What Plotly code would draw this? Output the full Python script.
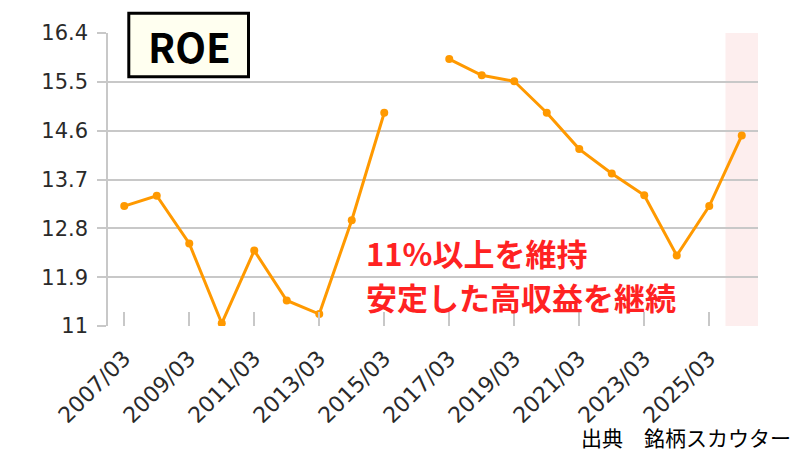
import plotly.graph_objects as go

categories = ["2007/03", "2008/03", "2009/03", "2010/03", "2011/03", "2012/03",
              "2013/03", "2014/03", "2015/03", "2016/03", "2017/03", "2018/03",
              "2019/03", "2020/03", "2021/03", "2022/03", "2023/03", "2024/03",
              "2025/03", "2026/03"]
roe = [13.21, 13.40, 12.52, 11.05, 12.39, 11.47, 11.22, 12.95, 14.93, None,
       15.92, 15.62, 15.51, 14.93, 14.26, 13.81, 13.41, 12.30, 13.21, 14.51]
y_ticks = [11, 11.9, 12.8, 13.7, 14.6, 15.5, 16.4]
y_tick_text = ["11", "11.9", "12.8", "13.7", "14.6", "15.5", "16.4"]
x_ticks = categories[0::2][:10]

title_text = "ROE"
note_line1 = "11%以上を維持"
note_line2 = "安定した高収益を継続"
source_text = "出典　銘柄スカウター"

FONT = "Noto Sans CJK JP"
TICKFONT = "DejaVu Sans"
OFF = 8  # page body margin
W, H = 800 - OFF, 450 - OFF
L, T = 108 - OFF, 33 - OFF
PW, PH = 650, 293
R, B = W - L - PW, H - T - PH


def px(x):
    return (x - OFF - L) / PW


def py(y):
    return (T + PH - (y - OFF)) / PH


fig = go.Figure()
fig.add_trace(go.Scatter(
    x=categories, y=roe, mode="lines+markers",
    line=dict(color="#ff9900", width=3),
    marker=dict(color="#ff9900", size=8),
    connectgaps=False, hoverinfo="skip", showlegend=False,
))

# forecast shading on the last category
fig.add_shape(type="rect", xref="x", yref="paper",
              x0=len(categories) - 1.5, x1=len(categories) - 0.5, y0=0, y1=1,
              fillcolor="#fdeeee", line=dict(width=0), layer="below")

# title box
fig.add_shape(type="rect", xref="paper", yref="paper",
              x0=px(128.8), x1=px(248.5), y0=py(76.8), y1=py(13.2),
              fillcolor="#fffff0", line=dict(color="black", width=3), layer="above")
fig.add_annotation(xref="paper", yref="paper", x=px(189), y=py(46),
                   text=f"<b>{title_text}</b>", showarrow=False,
                   xanchor="center", yanchor="middle",
                   font=dict(family=FONT, size=40, color="black"))

fig.add_annotation(xref="paper", yref="paper", x=px(364), y=py(252),
                   text=f"<b>{note_line1}</b>", showarrow=False,
                   xanchor="left", yanchor="middle",
                   font=dict(family=FONT, size=31, color="#ff2222"))
fig.add_annotation(xref="paper", yref="paper", x=px(364), y=py(296),
                   text=f"<b>{note_line2}</b>", showarrow=False,
                   xanchor="left", yanchor="middle",
                   font=dict(family=FONT, size=31, color="#ff2222"))
fig.add_annotation(xref="paper", yref="paper", x=px(793), y=py(437),
                   text=source_text, showarrow=False,
                   xanchor="right", yanchor="middle",
                   font=dict(family=FONT, size=21, color="black"))

fig.update_layout(
    width=W, height=H, margin=dict(l=L, r=R, t=T, b=B),
    plot_bgcolor="white", paper_bgcolor="white",
    font=dict(family=FONT, size=21, color="#222222"),
    xaxis=dict(type="category", range=[-0.5, len(categories) - 0.5],
               tickmode="array", tickvals=x_ticks, ticktext=x_ticks,
               tickangle=-45, ticks="inside", ticklen=14, tickwidth=1.5,
               tickcolor="#c8c8c8", showgrid=False, showline=False,
               zeroline=False, ticklabelstandoff=14,
               tickfont=dict(family=TICKFONT, size=22, color="#2a2a2a")),
    yaxis=dict(range=[11, 16.4], tickmode="array", tickvals=y_ticks,
               ticktext=y_tick_text, ticks="outside", ticklen=9,
               tickwidth=1.5, tickcolor="#c8c8c8", showgrid=True,
               gridcolor="#c8c8c8", gridwidth=1.5, showline=True,
               linecolor="#c8c8c8", linewidth=1.5, zeroline=False,
               tickfont=dict(family=TICKFONT, size=21, color="#2a2a2a"),
               ticklabelstandoff=5),
)

fig.write_html("out.html")
